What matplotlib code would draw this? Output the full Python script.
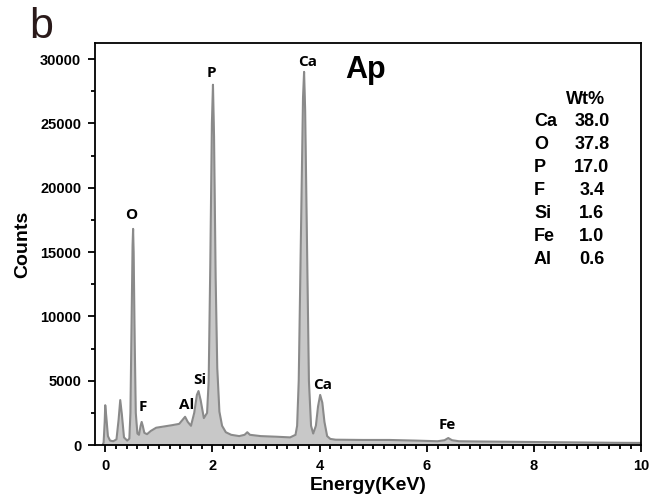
import numpy as np
import matplotlib
matplotlib.use("Agg")
import matplotlib.pyplot as plt
from matplotlib.ticker import MultipleLocator

# EDS spectrum of apatite (energy in keV, counts)
energy = [-0.05, -0.03, -0.01, 0.0, 0.02, 0.05, 0.09, 0.15, 0.21, 0.25, 0.28,
          0.31, 0.35, 0.41, 0.45, 0.47, 0.49, 0.51, 0.52, 0.53, 0.55, 0.57,
          0.60, 0.63, 0.66, 0.68, 0.70, 0.73, 0.78, 0.85, 0.95, 1.10, 1.25,
          1.38, 1.44, 1.49, 1.54, 1.60, 1.66, 1.71, 1.74, 1.78, 1.84, 1.90,
          1.93, 1.96, 1.99, 2.01, 2.03, 2.06, 2.09, 2.13, 2.18, 2.25, 2.35,
          2.50, 2.60, 2.65, 2.70, 2.90, 3.20, 3.45, 3.55, 3.58, 3.61, 3.65,
          3.69, 3.71, 3.73, 3.77, 3.80, 3.84, 3.88, 3.93, 3.97, 4.01, 4.05,
          4.09, 4.14, 4.20, 4.30, 4.80, 5.30, 5.80, 6.20, 6.33, 6.40, 6.47,
          6.60, 7.00, 7.50, 8.00, 8.50, 9.00, 9.50, 10.0]
counts = [0, 200, 1800, 3100, 2200, 700, 350, 300, 450, 2000, 3500,
          2400, 600, 350, 500, 2500, 9000, 15500, 16800, 15000, 8000, 2500,
          900, 800, 1500, 1800, 1500, 950, 850, 1100, 1350, 1450, 1550,
          1650, 1950, 2200, 1800, 1500, 2500, 3900, 4200, 3500, 2100, 2500,
          5000, 14000, 25000, 28000, 24000, 13000, 6000, 2600, 1500, 1000, 800,
          700, 800, 1000, 800, 700, 650, 600, 800, 1500, 5000, 16000,
          27000, 29000, 26000, 14000, 5000, 1500, 900, 1500, 3000, 3900, 3300,
          1800, 700, 480, 420, 400, 400, 350, 300, 380, 550, 380,
          300, 280, 260, 240, 220, 200, 180, 170]

# peak labels: element, energy, label centre height
peak_names = ["O", "F", "Al", "Si", "P", "Ca", "Ca", "Fe"]
peak_x = [0.49, 0.70, 1.51, 1.76, 1.98, 3.77, 4.06, 6.38]
peak_y = [17900, 2950, 3100, 5050, 28900, 29800, 4650, 1550]

# composition table
elements = ["Ca", "O", "P", "F", "Si", "Fe", "Al"]
wt = ["38.0", "37.8", "17.0", "3.4", "1.6", "1.0", "0.6"]

fig = plt.figure(figsize=(6.51, 4.99), dpi=100)
ax = fig.add_axes([0.146, 0.108, 0.839, 0.806])

ax.fill_between(energy, counts, 0, color="#c8c8c8", lw=0)
ax.plot(energy, counts, color="#8a8a8a", lw=1.5)

ax.set_xlim(-0.19, 10.0)
ax.set_ylim(0, 31250)
ax.xaxis.set_major_locator(MultipleLocator(2))
ax.xaxis.set_minor_locator(MultipleLocator(0.2))
ax.yaxis.set_major_locator(MultipleLocator(5000))
ax.yaxis.set_minor_locator(MultipleLocator(2500))
ax.tick_params(which="both", direction="out", width=1.3, labelsize=10.5)
ax.tick_params(which="major", length=5, pad=5)
ax.tick_params(which="minor", length=3)
for lab in ax.get_xticklabels() + ax.get_yticklabels():
    lab.set_fontweight("bold")
    lab.set_family("Liberation Sans")
for s in ax.spines.values():
    s.set_linewidth(1.3)

ax.set_xlabel("Energy(KeV)", fontsize=14, fontweight="bold",
              family="Liberation Sans", labelpad=3)
ax.set_ylabel("Counts", fontsize=14, fontweight="bold",
              family="Liberation Sans", labelpad=6)

for name, x, y in zip(peak_names, peak_x, peak_y):
    ax.text(x, y, name, ha="center", va="center", fontsize=11,
            fontweight="bold", family="Open Sans")

ax.text(4.86, 29150, "Ap", fontsize=22, fontweight="bold",
        family="Liberation Sans", ha="center", va="center")

# weight percent table
ax.text(8.97, 26830, "Wt%", fontsize=13, fontweight="bold",
        family="Liberation Sans", ha="center", va="center")
row_h = 1777
for i, (el, v) in enumerate(zip(elements, wt)):
    y = 25120 - i * row_h
    ax.text(8.0, y, el, fontsize=13, fontweight="bold",
            family="Liberation Sans", ha="left", va="center")
    ax.text(9.08, y, v, fontsize=13, fontweight="bold",
            family="Liberation Sans", ha="center", va="center")

fig.text(0.045, 0.945, "b", fontsize=31, color="#2a1a1a",
         family="Liberation Sans", va="center")

fig.savefig("out.png", dpi=100)
